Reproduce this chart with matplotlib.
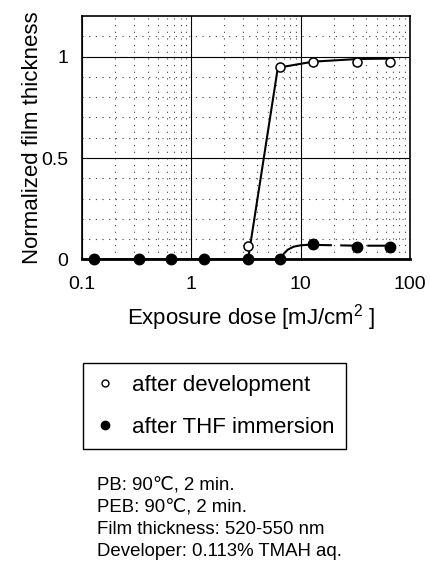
import numpy as np
import matplotlib
matplotlib.use('Agg')
import matplotlib.pyplot as plt
from matplotlib.lines import Line2D
from matplotlib.ticker import FixedLocator, NullFormatter

plt.rcParams['font.family'] = ['Liberation Sans', 'DejaVu Sans']
plt.rcParams['mathtext.fontset'] = 'custom'
plt.rcParams['mathtext.rm'] = 'Liberation Sans'
plt.rcParams['mathtext.it'] = 'Liberation Sans:italic'

# 曝光剂量 (mJ/cm2)
dose = [0.13, 0.33, 0.65, 1.3, 3.3, 6.5, 13, 33, 65]

# 显影后 (open circles): 只在 >=3.3 处有数据
dev_dose = [3.3, 6.5, 13, 33, 65]
dev_thick = [0.066, 0.947, 0.972, 0.975, 0.975]

# THF 浸泡后 (filled circles)
thf_dose = dose
thf_thick = [0, 0, 0, 0, 0, 0, 0.078, 0.064, 0.064]

# 手绘拟合曲线
dev_fit_x = [0.13, 3.3, 3.3, 6.1, 6.5, 13, 33, 65]
dev_fit_y = [0, 0, 0.0, 0.925, 0.947, 0.975, 0.988, 0.99]
thf_fit_x = [0.13, 6.5, 7.0, 7.6, 8.6, 10, 13]
thf_fit_y = [0, 0, 0.028, 0.048, 0.063, 0.070, 0.074]
thf_dash_x = [13, 33, 65]
thf_dash_y = [0.072, 0.068, 0.068]

notes = ['PB: 90℃, 2 min.',
         'PEB: 90℃, 2 min.',
         'Film thickness: 520-550 nm',
         'Developer: 0.113% TMAH aq.']

W, H = 430, 562
fig = plt.figure(figsize=(W / 100, H / 100), dpi=100)
ax = fig.add_axes([82 / W, 1 - 259.5 / H, 328 / W, 243.5 / H])

ax.set_xscale('log')
ax.set_xlim(0.1, 100)
ax.set_ylim(0, 1.2)

# 网格: 主网格实线, 次网格点线
ax.xaxis.set_major_locator(FixedLocator([0.1, 1, 10, 100]))
ax.xaxis.set_minor_locator(FixedLocator([m * d for d in [0.1, 1, 10] for m in range(2, 10)]))
ax.xaxis.set_minor_formatter(NullFormatter())
ax.yaxis.set_major_locator(FixedLocator([0, 0.5, 1]))
ax.yaxis.set_minor_locator(FixedLocator([0.1, 0.2, 0.3, 0.4, 0.6, 0.7, 0.8, 0.9, 1.1]))
ax.set_xticklabels(['0.1', '1', '10', '100'])
ax.set_yticklabels(['0', '0.5', '1'])
ax.grid(True, which='major', color='black', lw=0.8)
ax.grid(True, which='minor', color='0.25', lw=0.8, linestyle=(0, (1, 5)))
ax.tick_params(which='both', length=0)
ax.tick_params(axis='x', labelsize=14, pad=12)
ax.tick_params(axis='y', labelsize=14, pad=10)
for s in ax.spines.values():
    s.set_linewidth(1.2)
ax.spines['bottom'].set_linewidth(2)
ax.set_axisbelow(True)

# 曲线
ax.plot(dev_fit_x, dev_fit_y, color='black', lw=1.5, zorder=3)
ax.plot(thf_fit_x, thf_fit_y, color='black', lw=1.5, zorder=3)
ax.plot(thf_dash_x, thf_dash_y, color='black', lw=1.5, dashes=(9, 4), zorder=3)

# 数据点
ax.plot(dev_dose, dev_thick, 'o', ms=6.5, mfc='white', mec='black', mew=1.1, zorder=5, clip_on=False)
ax.plot(thf_dose, thf_thick, 'o', ms=7.5, color='black', zorder=5, clip_on=False)

ax.set_xlabel('Exposure dose [mJ/cm$^2$ ]', fontsize=16)
ax.xaxis.set_label_coords(0.515, -0.175)
ax.set_ylabel('Normalized film thickness', fontsize=16)
ax.yaxis.set_label_coords(-0.12, 0.5)

# 图例
handles = [Line2D([], [], ls='none', marker='o', ms=5, mfc='white', mec='black', mew=1),
           Line2D([], [], ls='none', marker='o', ms=6, color='black')]
leg = fig.legend(handles, ['after development', 'after THF immersion'],
                 loc='upper left', bbox_to_anchor=(82.7 / W, 1 - 363 / H),
                 fontsize=16, frameon=True, fancybox=False, edgecolor='black',
                 framealpha=1, handlelength=1.0, handletextpad=0.7,
                 labelspacing=0.96, borderpad=0.52, borderaxespad=0)
leg.get_frame().set_linewidth(1.0)

# 实验条件
for i, t in enumerate(notes):
    fig.text(96.7 / W, 1 - (490 + 22 * i) / H, t, fontsize=13.4, va='baseline', ha='left')

fig.savefig('out.png', dpi=100)
